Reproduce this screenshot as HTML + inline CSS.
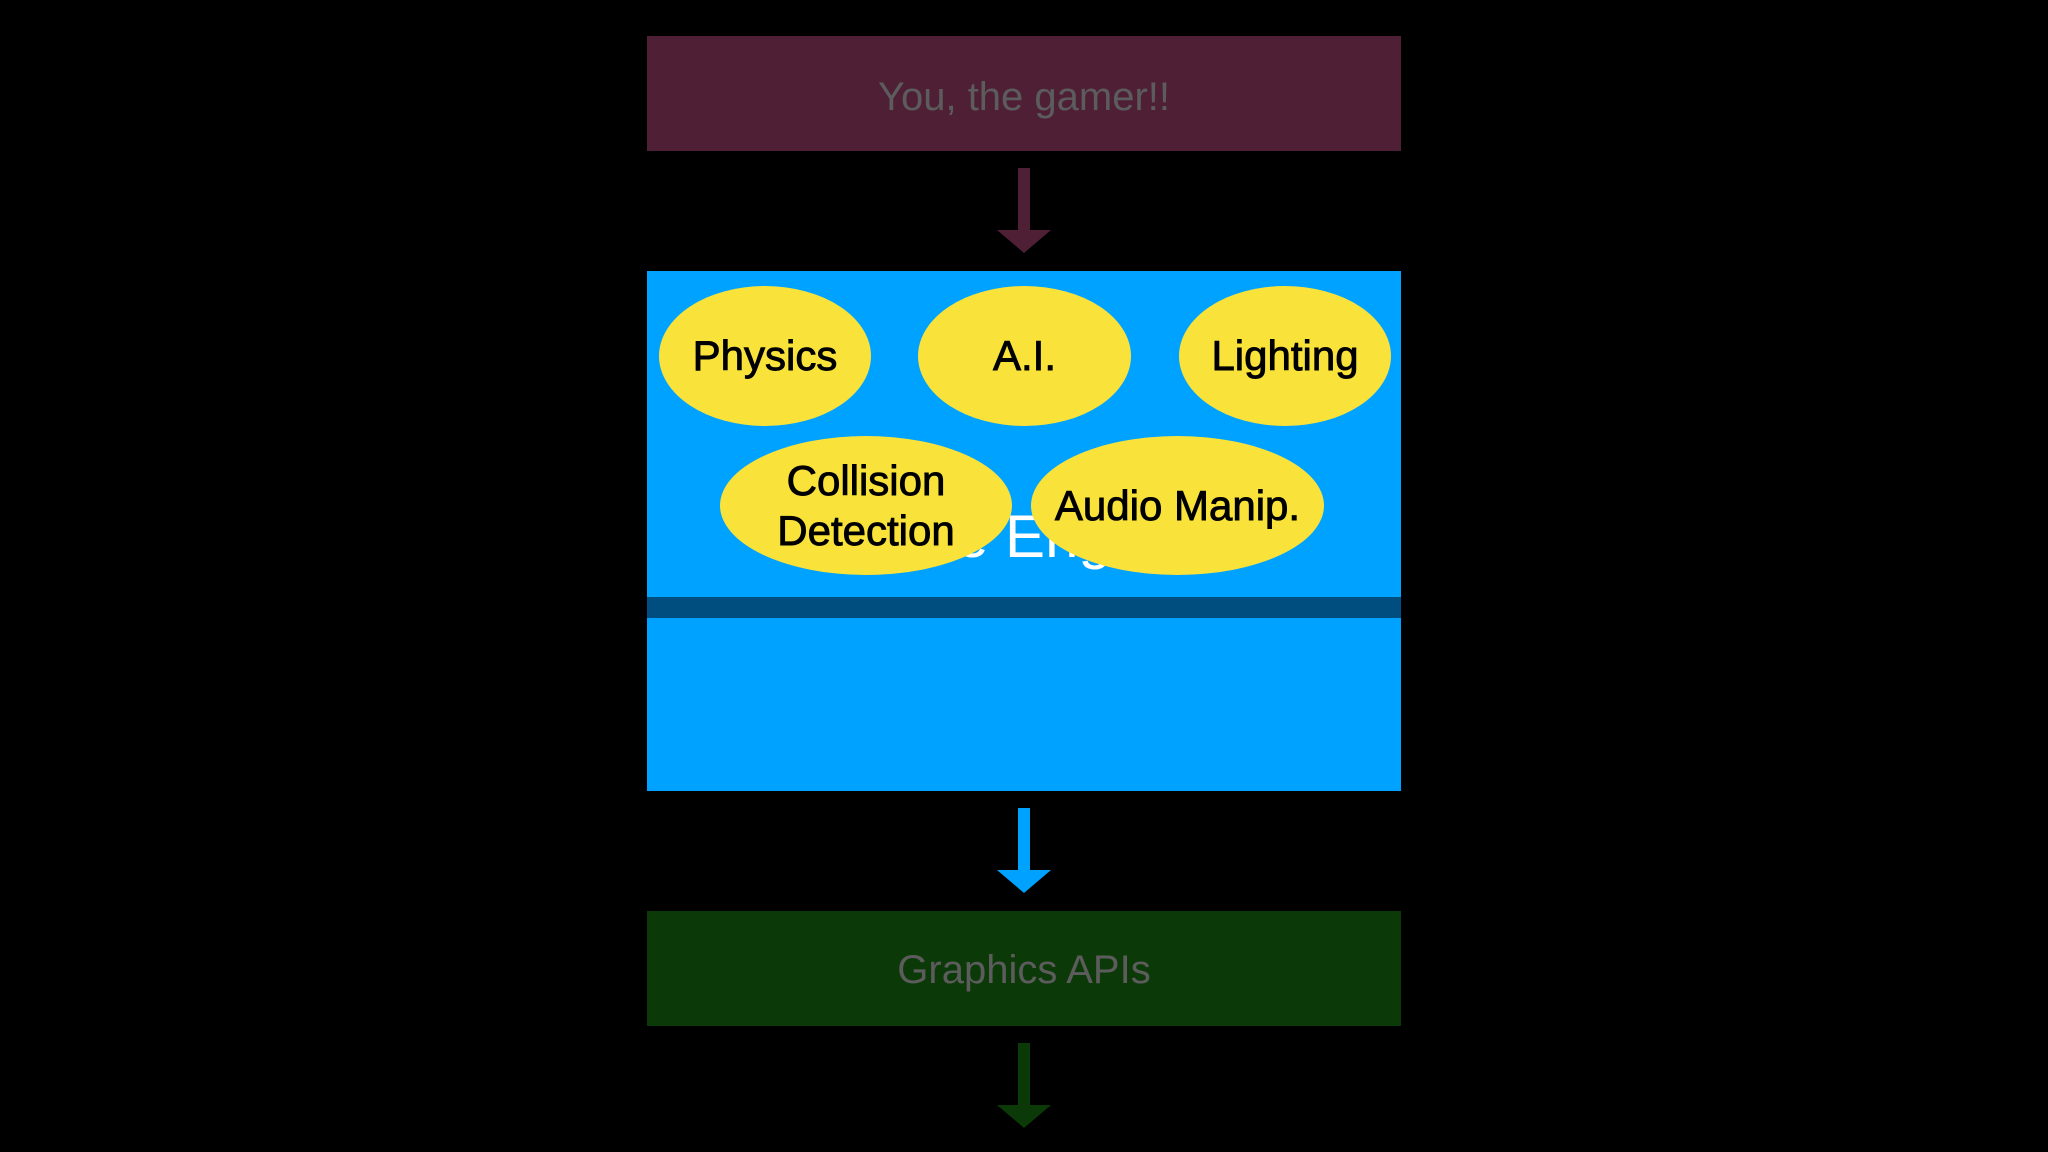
<!DOCTYPE html>
<html><head><meta charset="utf-8"><style>
html,body{margin:0;padding:0;background:#000;}
body{width:2048px;height:1152px;position:relative;overflow:hidden;font-family:"Liberation Sans",Arial,sans-serif;}
.abs{position:absolute;}
.box{position:absolute;left:647px;width:754px;}
.lbl{position:absolute;left:0;width:100%;text-align:center;color:#5c5c5c;font-size:40px;line-height:40px;}
.ell{position:absolute;border-radius:50%;background:#f9e23a;display:flex;align-items:center;justify-content:center;text-align:center;color:#000;font-size:42px;line-height:50px;-webkit-text-stroke:0.9px #000;}
</style></head><body>
<div class="box" style="top:36px;height:115px;background:#4f1f36;"><div class="lbl" style="top:41px;">You, the gamer!!</div></div>
<svg class="abs" style="left:0;top:0" width="2048" height="1152">
<rect x="1018" y="168" width="12" height="64" fill="#4f1f36"/>
<polygon points="997,230 1051,230 1024,253" fill="#4f1f36"/>
<rect x="1018" y="808" width="12" height="64" fill="#00a2ff"/>
<polygon points="997,870 1051,870 1024,893" fill="#00a2ff"/>
<rect x="1018" y="1043" width="12" height="64" fill="#0b3907"/>
<polygon points="997,1105 1051,1105 1024,1128" fill="#0b3907"/>
</svg>
<div class="box" style="top:271px;height:520px;background:#00a2ff;">
  <div class="abs" style="left:0;top:326px;width:754px;height:21px;background:#004e80;"></div>
  <div class="abs" style="left:178px;top:236px;color:#fff;font-size:60px;line-height:60px;white-space:nowrap;">Game Engine</div>
</div>
<div class="ell" style="left:659px;top:286px;width:212px;height:140px;">Physics</div>
<div class="ell" style="left:918px;top:286px;width:213px;height:140px;">A.I.</div>
<div class="ell" style="left:1179px;top:286px;width:212px;height:140px;">Lighting</div>
<div class="ell" style="left:720px;top:436px;width:292px;height:139px;">Collision<br>Detection</div>
<div class="ell" style="left:1031px;top:436px;width:293px;height:139px;">Audio Manip.</div>
<div class="box" style="top:911px;height:115px;background:#0b3907;"><div class="lbl" style="top:39px;">Graphics APIs</div></div>
</body></html>
